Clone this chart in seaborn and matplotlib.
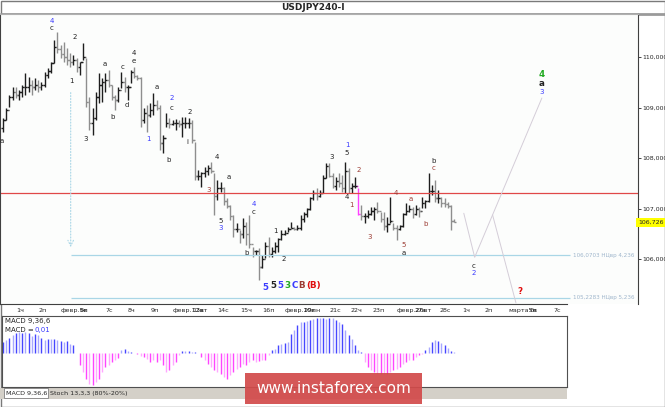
import numpy as np
import matplotlib
matplotlib.use("Agg")
import matplotlib.pyplot as plt
import seaborn as sns
from matplotlib.patches import Rectangle

sns.set_style("white")
plt.rcParams['font.family'] = ['DejaVu Sans']

# --- price bars (4h) ---
highs = [108.79, 108.99, 109.25, 109.41, 109.41, 109.35, 109.45, 109.68, 109.60, 109.55,
         109.58, 109.55, 109.51, 109.70, 109.78, 109.90, 110.34, 110.50, 110.24, 110.30,
         110.18, 110.08, 110.04, 109.98, 109.90, 110.28, 109.98, 109.21, 108.99, 109.31,
         109.68, 109.58, 109.68, 109.74, 109.45, 109.25, 109.41, 109.70, 109.60, 109.45,
         109.74, 109.80, 109.64, 109.60, 108.99, 109.05, 109.09, 109.29, 109.15, 109.05,
         108.46, 108.89, 108.79, 108.75, 108.77, 108.75, 108.81, 108.81, 108.79, 108.75,
         108.32, 107.76, 107.72, 107.82, 107.86, 107.92, 107.70, 107.56, 107.53, 107.43,
         107.21, 107.07, 106.87, 106.71, 106.57, 106.81, 106.73, 106.87, 106.24, 106.18,
         106.22, 106.08, 106.34, 106.44, 106.24, 106.34, 106.42, 106.57, 106.57, 106.63,
         106.73, 106.63, 106.67, 106.87, 106.93, 107.01, 107.23, 107.37, 107.41, 107.37,
         107.66, 107.90, 107.90, 107.70, 107.62, 107.70, 107.66, 107.92, 107.80, 107.51,
         107.62, 107.41, 107.07, 106.91, 106.97, 107.03, 107.03, 107.13, 106.93, 106.93,
         106.83, 107.23, 106.71, 106.67, 106.67, 106.91, 107.11, 107.07, 107.03, 107.07,
         107.03, 107.23, 107.17, 107.70, 107.47, 107.56, 107.37, 107.23, 107.21, 107.13,
         107.07, 106.79]
lows = [108.52, 108.75, 109.01, 109.15, 109.19, 109.15, 109.21, 109.25, 109.31, 109.25,
        109.35, 109.31, 109.35, 109.41, 109.58, 109.68, 109.88, 110.08, 109.98, 109.90,
        109.84, 109.80, 109.84, 109.70, 109.64, 109.94, 109.01, 108.55, 108.46, 108.75,
        109.09, 109.11, 109.31, 109.41, 109.15, 108.95, 109.11, 109.39, 109.31, 109.15,
        109.49, 109.58, 109.55, 108.61, 108.69, 108.52, 108.81, 108.85, 108.95, 108.16,
        108.10, 108.61, 108.59, 108.65, 108.55, 108.61, 108.42, 108.59, 108.59, 108.30,
        107.56, 107.56, 107.43, 107.62, 107.66, 107.70, 106.87, 107.17, 107.33, 107.07,
        107.01, 106.77, 106.44, 106.54, 106.32, 106.42, 106.28, 106.22, 106.04, 106.08,
        105.58, 105.82, 106.02, 106.04, 106.04, 106.12, 106.14, 106.38, 106.48, 106.54,
        106.61, 106.57, 106.57, 106.57, 106.73, 106.83, 106.97, 107.17, 107.17, 107.23,
        107.31, 107.60, 107.62, 107.41, 107.37, 107.43, 107.33, 107.31, 107.31, 107.31,
        107.41, 106.87, 106.77, 106.71, 106.81, 106.87, 106.77, 106.91, 106.73, 106.57,
        106.54, 106.71, 106.57, 106.38, 106.57, 106.63, 106.87, 106.93, 106.81, 106.87,
        106.83, 107.01, 107.01, 107.13, 107.27, 107.13, 107.11, 107.03, 107.03, 107.01,
        106.57, 106.73]
closes = [108.75, 108.95, 109.20, 109.30, 109.25, 109.30, 109.40, 109.40, 109.45, 109.40,
          109.45, 109.40, 109.45, 109.65, 109.72, 109.88, 110.20, 110.15, 110.05, 110.00,
          109.95, 109.90, 109.95, 109.80, 109.90, 110.00, 109.10, 108.70, 108.80, 109.20,
          109.45, 109.50, 109.55, 109.45, 109.20, 109.15, 109.35, 109.50, 109.40, 109.40,
          109.70, 109.62, 109.58, 108.75, 108.90, 108.85, 108.95, 109.05, 109.00, 108.30,
          108.40, 108.70, 108.68, 108.70, 108.70, 108.68, 108.70, 108.70, 108.70, 108.35,
          107.65, 107.65, 107.70, 107.75, 107.80, 107.75, 107.25, 107.40, 107.40, 107.15,
          107.05, 106.85, 106.60, 106.60, 106.50, 106.65, 106.50, 106.30, 106.15, 106.15,
          105.85, 106.00, 106.25, 106.10, 106.15, 106.25, 106.40, 106.50, 106.52, 106.60,
          106.62, 106.60, 106.62, 106.80, 106.90, 107.00, 107.20, 107.30, 107.25, 107.30,
          107.60, 107.85, 107.65, 107.45, 107.55, 107.50, 107.40, 107.75, 107.40, 107.45,
          107.45, 106.90, 106.85, 106.85, 106.90, 106.95, 107.00, 106.95, 106.80, 106.65,
          106.70, 106.75, 106.62, 106.60, 106.65, 106.90, 106.95, 107.00, 106.90, 107.00,
          106.95, 107.10, 107.15, 107.35, 107.35, 107.20, 107.20, 107.10, 107.08, 107.05,
          106.75, 106.73]
first_open = 108.60
pink_bar = 111

# --- MACD(9,36,6) histogram ---
macd = [0.11, 0.13, 0.15, 0.18, 0.20, 0.21, 0.20, 0.21, 0.20, 0.17, 0.19, 0.18, 0.15, 0.13,
        0.14, 0.14, 0.14, 0.13, 0.12, 0.11, 0.12, 0.09, 0.08, 0.0,
        -0.12, -0.19, -0.26, -0.31, -0.32, -0.29, -0.26, -0.19, -0.14, -0.12, -0.09, -0.07, -0.05,
        0.03, 0.04, 0.02, 0.01, 0.0,
        -0.01, -0.03, -0.04, -0.06, -0.09, -0.07, -0.09, -0.07, -0.12, -0.19, -0.17, -0.12, -0.09, -0.02,
        0.02, 0.02, 0.02, 0.01, 0.01, 0.0,
        -0.04, -0.07, -0.11, -0.14, -0.17, -0.19, -0.21, -0.24, -0.26, -0.22, -0.19, -0.16, -0.14,
        -0.11, -0.12, -0.09, -0.07, -0.09, -0.08, -0.07, -0.07, -0.02,
        0.03, 0.04, 0.08, 0.09, 0.10, 0.11, 0.19, 0.23, 0.28, 0.31, 0.31, 0.32, 0.33, 0.34, 0.35,
        0.35, 0.35, 0.34, 0.35, 0.35, 0.33, 0.31, 0.29, 0.23, 0.18, 0.14, 0.08, 0.03, 0.01,
        -0.09, -0.14, -0.17, -0.19, -0.21, -0.21, -0.21, -0.21, -0.19, -0.17, -0.16, -0.14, -0.11,
        -0.09, -0.07, -0.07, -0.04, -0.02, -0.01,
        0.03, 0.06, 0.11, 0.13, 0.12, 0.10, 0.08, 0.05, 0.02, 0.01]

# --- axis labels ---
day_pos = [4, 11, 18, 24, 32, 39, 46, 53, 59, 67, 74, 81, 88, 94, 102, 108.5, 115.5,
           123, 128.5, 136.5, 143.5, 150.5, 158, 164.5, 172]
day_labels = ["1ч", "2п", "февр.5п", "6в", "7с", "8ч", "9п", "февр.12вт", "13в", "14с",
              "15ч", "16п", "февр.19пн", "20в", "21с", "22ч", "23п", "февр.26вт", "27в",
              "28с", "1ч", "2п", "марта5п", "6в", "7с"]
price_ticks = [106, 107, 108, 109, 110]
price_labels = ["106,000", "107,000", "108,000", "109,000", "110,000"]
last_price = 106.726
red_level = 107.30
fib_levels = [106.0703, 105.2283]
fib_labels = ["106,0703 НЦвр 4,236", "105,2283 НЦвр 5,236"]

# projected paths (bar index, price)
path_main_x = [144.0, 147.4, 168.4]
path_main_y = [106.905, 106.034, 109.188]
path_alt_x = [153.0, 160.3]
path_alt_y = [106.871, 105.13]

BLUE, BLK, BRN, RED, GRN = '#3a3aff', '#222222', '#9c3c34', '#e01010', '#22aa22'
waves = [
    ("4", 15.3, 110.71, BLUE), ("c", 15.3, 110.57, BLK), ("2", 22.5, 110.40, BLK),
    ("1", 21.25, 109.53, BLK), ("3", 25.9, 108.38, BLK), ("a", 31.9, 109.86, BLK),
    ("b", 34.1, 108.81, BLK), ("c", 37.5, 109.80, BLK), ("d", 38.75, 109.05, BLK),
    ("4", 40.9, 110.08, BLK), ("e", 40.9, 109.92, BLK), ("a", 48.1, 109.41, BLK),
    ("2", 52.8, 109.19, BLUE), ("c", 52.8, 108.99, BLK), ("1", 45.6, 108.38, BLUE),
    ("2", 58.4, 108.91, BLK), ("i", 57.5, 108.32, BLK), ("b", 51.6, 107.96, BLK),
    ("4", 66.9, 108.02, BLK), ("3", 64.4, 107.37, BRN), ("a", 70.6, 107.62, BLK),
    ("5", 68.1, 106.75, BLK), ("3", 68.1, 106.61, BLUE), ("4", 78.4, 107.09, BLUE),
    ("c", 78.4, 106.93, BLK), ("b", 76.25, 106.12, BLK), ("1", 85.3, 106.56, BLK),
    ("2", 87.8, 106.00, BLK), ("3", 102.8, 108.02, BLK), ("1", 107.5, 108.26, BLUE),
    ("5", 107.5, 108.10, BLK), ("2", 111.25, 107.76, BRN), ("4", 107.5, 107.23, BLK),
    ("1", 108.75, 107.07, BRN), ("3", 114.7, 106.44, BRN), ("4", 122.8, 107.31, BRN),
    ("a", 127.5, 107.19, BRN), ("b", 132.2, 106.69, BRN), ("5", 125.3, 106.28, BRN),
    ("a", 125.3, 106.12, BLK), ("b", 134.4, 107.94, BLK), ("c", 134.4, 107.80, BRN),
    ("c", 147.2, 105.86, BLK), ("2", 147.2, 105.72, BLUE), ("3", 168.4, 109.31, BLUE),
    ("a", -0.3, 108.34, BLK),
]
big_waves = [
    ("5", 81.9, 105.43, BLUE), ("5", 84.4, 105.47, BLK), ("5", 86.6, 105.47, BLUE),
    ("3", 88.75, 105.47, GRN), ("C", 91.25, 105.47, BLUE), ("B", 93.4, 105.47, BRN),
    ("(B)", 96.9, 105.47, RED), ("?", 161.6, 105.35, RED), ("4", 168.4, 109.65, GRN),
    ("a", 168.4, 109.47, BLK),
]

W, H = 665, 407
fig = plt.figure(figsize=(W / 100, H / 100), dpi=100)


def box(x0, y0, x1, y1):
    return [x0 / W, 1 - y1 / H, (x1 - x0) / W, (y1 - y0) / H]


def bar_x(px):
    return (px - 3) / 3.2


# background / frame
bg = fig.add_axes([0, 0, 1, 1])
bg.set_xlim(0, W)
bg.set_ylim(H, 0)
bg.axis('off')
bg.add_patch(Rectangle((0.5, 0.5), W - 1, H - 1, fill=False, ec='#7a7a7a', lw=1))
bg.hlines(13.5, 0, W, color='#9a9a9a', lw=2)
bg.text(313, 7, "USDJPY240-I", fontsize=6.5, fontweight='bold', ha='center', va='center')
bg.add_patch(Rectangle((0, 388), 567, 11, fc='#d4d0c8', ec='none'))
bg.add_patch(Rectangle((4, 388), 44, 10, fc='white', ec='#808080', lw=0.6))
bg.text(6, 393, "MACD 9,36,6", fontsize=4.6, va='center')
bg.text(50, 393, "Stoch 13,3,3 (80%-20%)", fontsize=4.6, va='center')

# price panel
ax = fig.add_axes(box(0, 14, 638, 304))
ax.set_facecolor('#fcfdfc')
ax.set_xlim(bar_x(0), bar_x(638))
ax.set_ylim(105.109, 110.8515)

idx = np.arange(len(highs))
opens = np.array([first_open] + closes[:-1])
cl = np.array(closes)
cols = np.where(cl >= opens, '#1e1e1e', '#8e8e8e').astype(object)
cols[pink_bar] = '#ff40ff'
ax.vlines(idx, lows, highs, colors=cols, lw=1)
ax.hlines(opens, idx - 0.55, idx, colors=cols, lw=1)
ax.hlines(cl, idx, idx + 0.55, colors=cols, lw=1)

ax.axhline(red_level, color='#e04848', lw=0.9)
for lvl, lab in zip(fib_levels, fib_labels):
    ax.hlines(lvl, bar_x(70.7), bar_x(570), color='#a9d6e6', lw=0.9)
    ax.text(bar_x(573), lvl, lab, fontsize=4.1, color='#9fb6cc', va='center')
ax.annotate('', xy=(bar_x(70.7), 106.18), xytext=(bar_x(70.7), 109.35),
            arrowprops=dict(arrowstyle='->', color='#a9d6e6', lw=0.8, linestyle=':'))

sns.lineplot(x=path_main_x, y=path_main_y, ax=ax, color='#d4cdd8', lw=0.7,
             sort=False, estimator=None)
sns.lineplot(x=path_alt_x, y=path_alt_y, ax=ax, color='#d4cdd8', lw=0.7,
             sort=False, estimator=None)

for t, x, y, c in waves:
    ax.text(x, y, t, color=c, fontsize=5, ha='center', va='center', clip_on=False)
for t, x, y, c in big_waves:
    ax.text(x, y, t, color=c, fontsize=6.3, fontweight='bold', ha='center', va='center')

# axes styling
for s in ax.spines.values():
    s.set_color('#404040')
    s.set_linewidth(0.8)
ax.spines['top'].set_color('#b0b0b0')
ax.spines['bottom'].set_bounds(bar_x(0), bar_x(567))
ax.yaxis.tick_right()
ax.set_yticks(price_ticks)
ax.set_yticklabels(price_labels)
ax.tick_params(axis='y', direction='out', length=2.5, width=0.6, labelsize=4.5, pad=0.5)
ax.set_xticks(day_pos)
ax.set_xticklabels(day_labels)
ax.tick_params(axis='x', direction='out', length=2, width=0.6, labelsize=4.6, pad=1)
for lbl in ax.get_xticklabels():
    lbl.set_ha('left')
ax.text(1.0, last_price, "106,726", transform=ax.get_yaxis_transform(), fontsize=4.5,
        va='center', ha='left', bbox=dict(fc='#ffff00', ec='none', pad=1.2))

# MACD panel
mx = fig.add_axes(box(2, 316, 567, 387))
mx.set_xlim(bar_x(2), bar_x(567))
mx.set_ylim(-0.34, 0.37)
m = np.array(macd)
mi = np.arange(len(m))
light = mi % 2 == 1
mcol = np.where(m >= 0, np.where(light, '#a8a8ff', '#4646ff'),
                np.where(light, '#ffa8ff', '#ff44ff'))
mx.vlines(mi, 0, m, colors=mcol, lw=1)
mx.set_xticks([])
mx.set_yticks([])
for s in mx.spines.values():
    s.set_color('#505050')
    s.set_linewidth(0.8)
mx.text(0.006, 0.97, "MACD 9,36,6", transform=mx.transAxes, fontsize=5, va='top')
mx.text(0.006, 0.84, "MACD =", transform=mx.transAxes, fontsize=5, va='top')
mx.text(0.058, 0.84, "0,01", transform=mx.transAxes, fontsize=5, va='top', color='#3a3aff')

# watermark
ov = fig.add_axes([0, 0, 1, 1], zorder=10)
ov.set_xlim(0, W)
ov.set_ylim(H, 0)
ov.axis('off')
ov.patch.set_alpha(0)
ov.add_patch(Rectangle((245, 373), 177, 31, fc='#d24a4a', ec='none', alpha=0.92))
ov.text(333.5, 388.5, "www.instaforex.com", color='white', fontsize=11,
        ha='center', va='center')

fig.savefig("out.png", dpi=100)
